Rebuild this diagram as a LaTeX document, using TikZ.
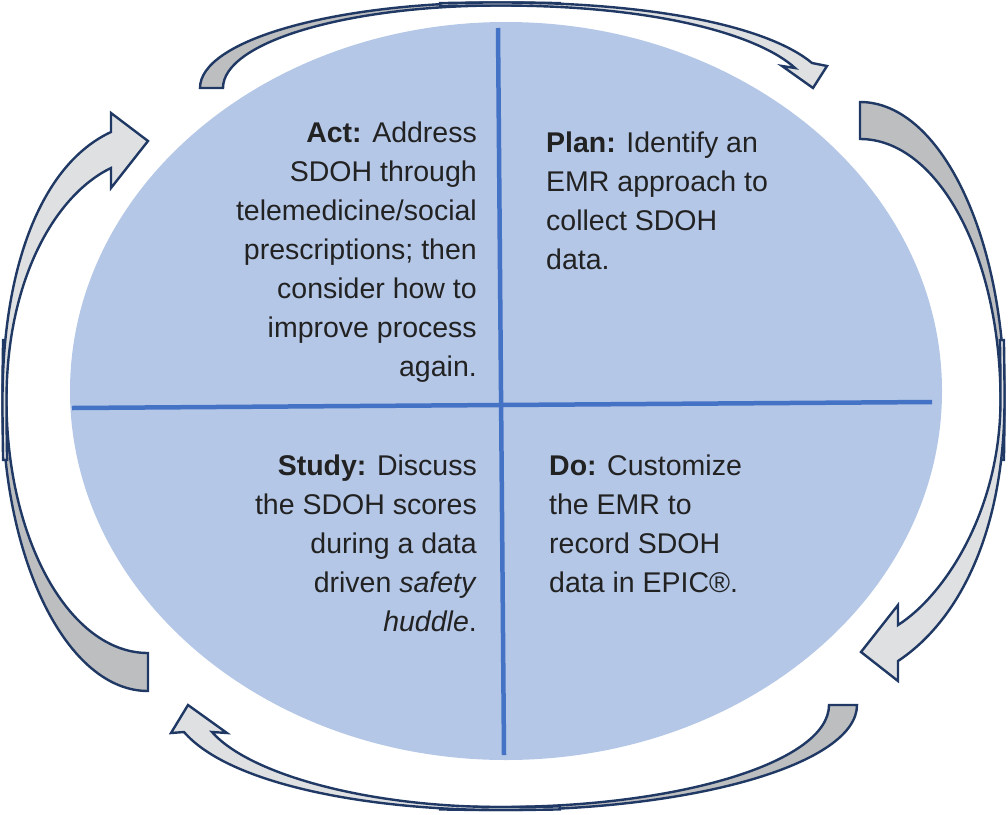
\documentclass[tikz,border=0pt]{standalone}
\usepackage{fontspec}
\setmainfont{Liberation Sans}
\definecolor{ellfill}{HTML}{B4C7E7}
\definecolor{divblue}{HTML}{4472C4}
\definecolor{navy}{HTML}{1F3864}
\definecolor{taildark}{HTML}{BDBEC0}
\definecolor{headlight}{HTML}{DFE0E2}
\definecolor{txt}{HTML}{222222}
\begin{document}
\begin{tikzpicture}[x=1pt,y=-1pt,
  tailpiece/.style={fill=taildark,draw=navy,line width=2.4pt,line join=miter},
  headpiece/.style={fill=headlight,draw=navy,line width=2.4pt,line join=miter},
  divider/.style={draw=divblue,line width=4.5pt},
  quad/.style={inner sep=0pt,text=txt,font=\fontsize{28.5}{39}\selectfont}]
\useasboundingbox (0,0) rectangle (1008,814);
% big ellipse
\fill[ellfill] (506,391) ellipse [x radius=436pt, y radius=369pt];
% dividers
\coordinate (vt) at (498,28);
\coordinate (vb) at (504,755);
\coordinate (hl) at (72,408);
\coordinate (hr) at (932,402);
\draw[divider] (vt) -- (vb);
\draw[divider] (hl) -- (hr);
% top arrow
\draw[tailpiece] (200,88) .. controls (200,40.5) and (334,2.5) .. (500,2.5)
  .. controls (520,2.5) and (540,2.7) .. (560,3.1) -- (560,6.1)
  .. controls (540,5.7) and (520,5.5) .. (500,5.5)
  .. controls (347,5.5) and (223,42.2) .. (223,88) -- cycle;
\draw[headpiece] (440,3.1) .. controls (460,2.7) and (480,2.5) .. (500,2.5)
  .. controls (660,2.5) and (770,28) .. (812,63) -- (827,66) -- (813,88) -- (782,66) -- (795,68)
  .. controls (760,36) and (660,5.5) .. (500,5.5)
  .. controls (480,5.5) and (460,5.7) .. (440,6.1) -- cycle;
% right arrow
\draw[tailpiece] (860,102) .. controls (940,102) and (1004.5,235.4) .. (1004.5,400)
  .. controls (1004.5,420) and (1004.3,440) .. (1003.9,460) -- (999.9,460)
  .. controls (1000.3,440) and (1000.5,420) .. (1000.5,400)
  .. controls (1000.5,255.9) and (937.9,139) .. (860,139) -- cycle;
\draw[headpiece] (1003.9,340) .. controls (1004.3,360) and (1004.5,380) .. (1004.5,400)
  .. controls (1004.5,530) and (960,620) .. (898,661) -- (898,681) -- (861,652) -- (898,605) -- (898,625)
  .. controls (945,595) and (1000.5,510) .. (1000.5,400)
  .. controls (1000.5,380) and (1000.3,360) .. (999.9,340) -- cycle;
% bottom arrow
\draw[tailpiece] (857,705) .. controls (857,763) and (697.2,810) .. (500,810)
  .. controls (480,810) and (460,809.8) .. (440,809.4) -- (440,806.4)
  .. controls (460,806.8) and (480,807) .. (500,807)
  .. controls (681.7,807) and (829,761.3) .. (829,705) -- cycle;
\draw[headpiece] (560,809.4) .. controls (540,809.8) and (520,810) .. (500,810)
  .. controls (370,810) and (230,785) .. (184,732) -- (171,733) -- (188,705) -- (227,733) -- (212,732)
  .. controls (250,775) and (370,807) .. (500,807)
  .. controls (520,807) and (540,806.8) .. (560,806.4) -- cycle;
% left arrow
\draw[tailpiece] (148,691) .. controls (67.4,691) and (2.5,560.7) .. (2.5,400)
  .. controls (2.5,380) and (2.7,360) .. (3.1,340) -- (7.1,340)
  .. controls (6.7,360) and (6.5,380) .. (6.5,400)
  .. controls (6.5,539.7) and (69.6,653) .. (148,653) -- cycle;
\draw[headpiece] (3.1,460) .. controls (2.7,440) and (2.5,420) .. (2.5,400)
  .. controls (2.5,270) and (40,165) .. (111,132) -- (111,113) -- (148,141) -- (111,188) -- (111,168)
  .. controls (55,195) and (6.5,280) .. (6.5,400)
  .. controls (6.5,420) and (6.7,440) .. (7.1,460) -- cycle;
% texts
\node[quad,anchor=north east,align=right] (act) at (477,122)
  {\textbf{Act:} Address\\SDOH through\\telemedicine/social\\prescriptions; then\\consider how to\\improve process\\again.};
\node[quad,anchor=north west,align=left] (plan) at (546,132)
  {\textbf{Plan:} Identify an\\EMR approach to\\collect SDOH\\data.};
\node[quad,anchor=north east,align=right] (study) at (477,455)
  {\textbf{Study:} Discuss\\the SDOH scores\\during a data\\driven \textit{safety}\\\textit{huddle}.};
\node[quad,anchor=north west,align=left] (doh) at (549,455)
  {\textbf{Do:} Customize\\the EMR to\\record SDOH\\data in EPIC®.};
\end{tikzpicture}
\end{document}
